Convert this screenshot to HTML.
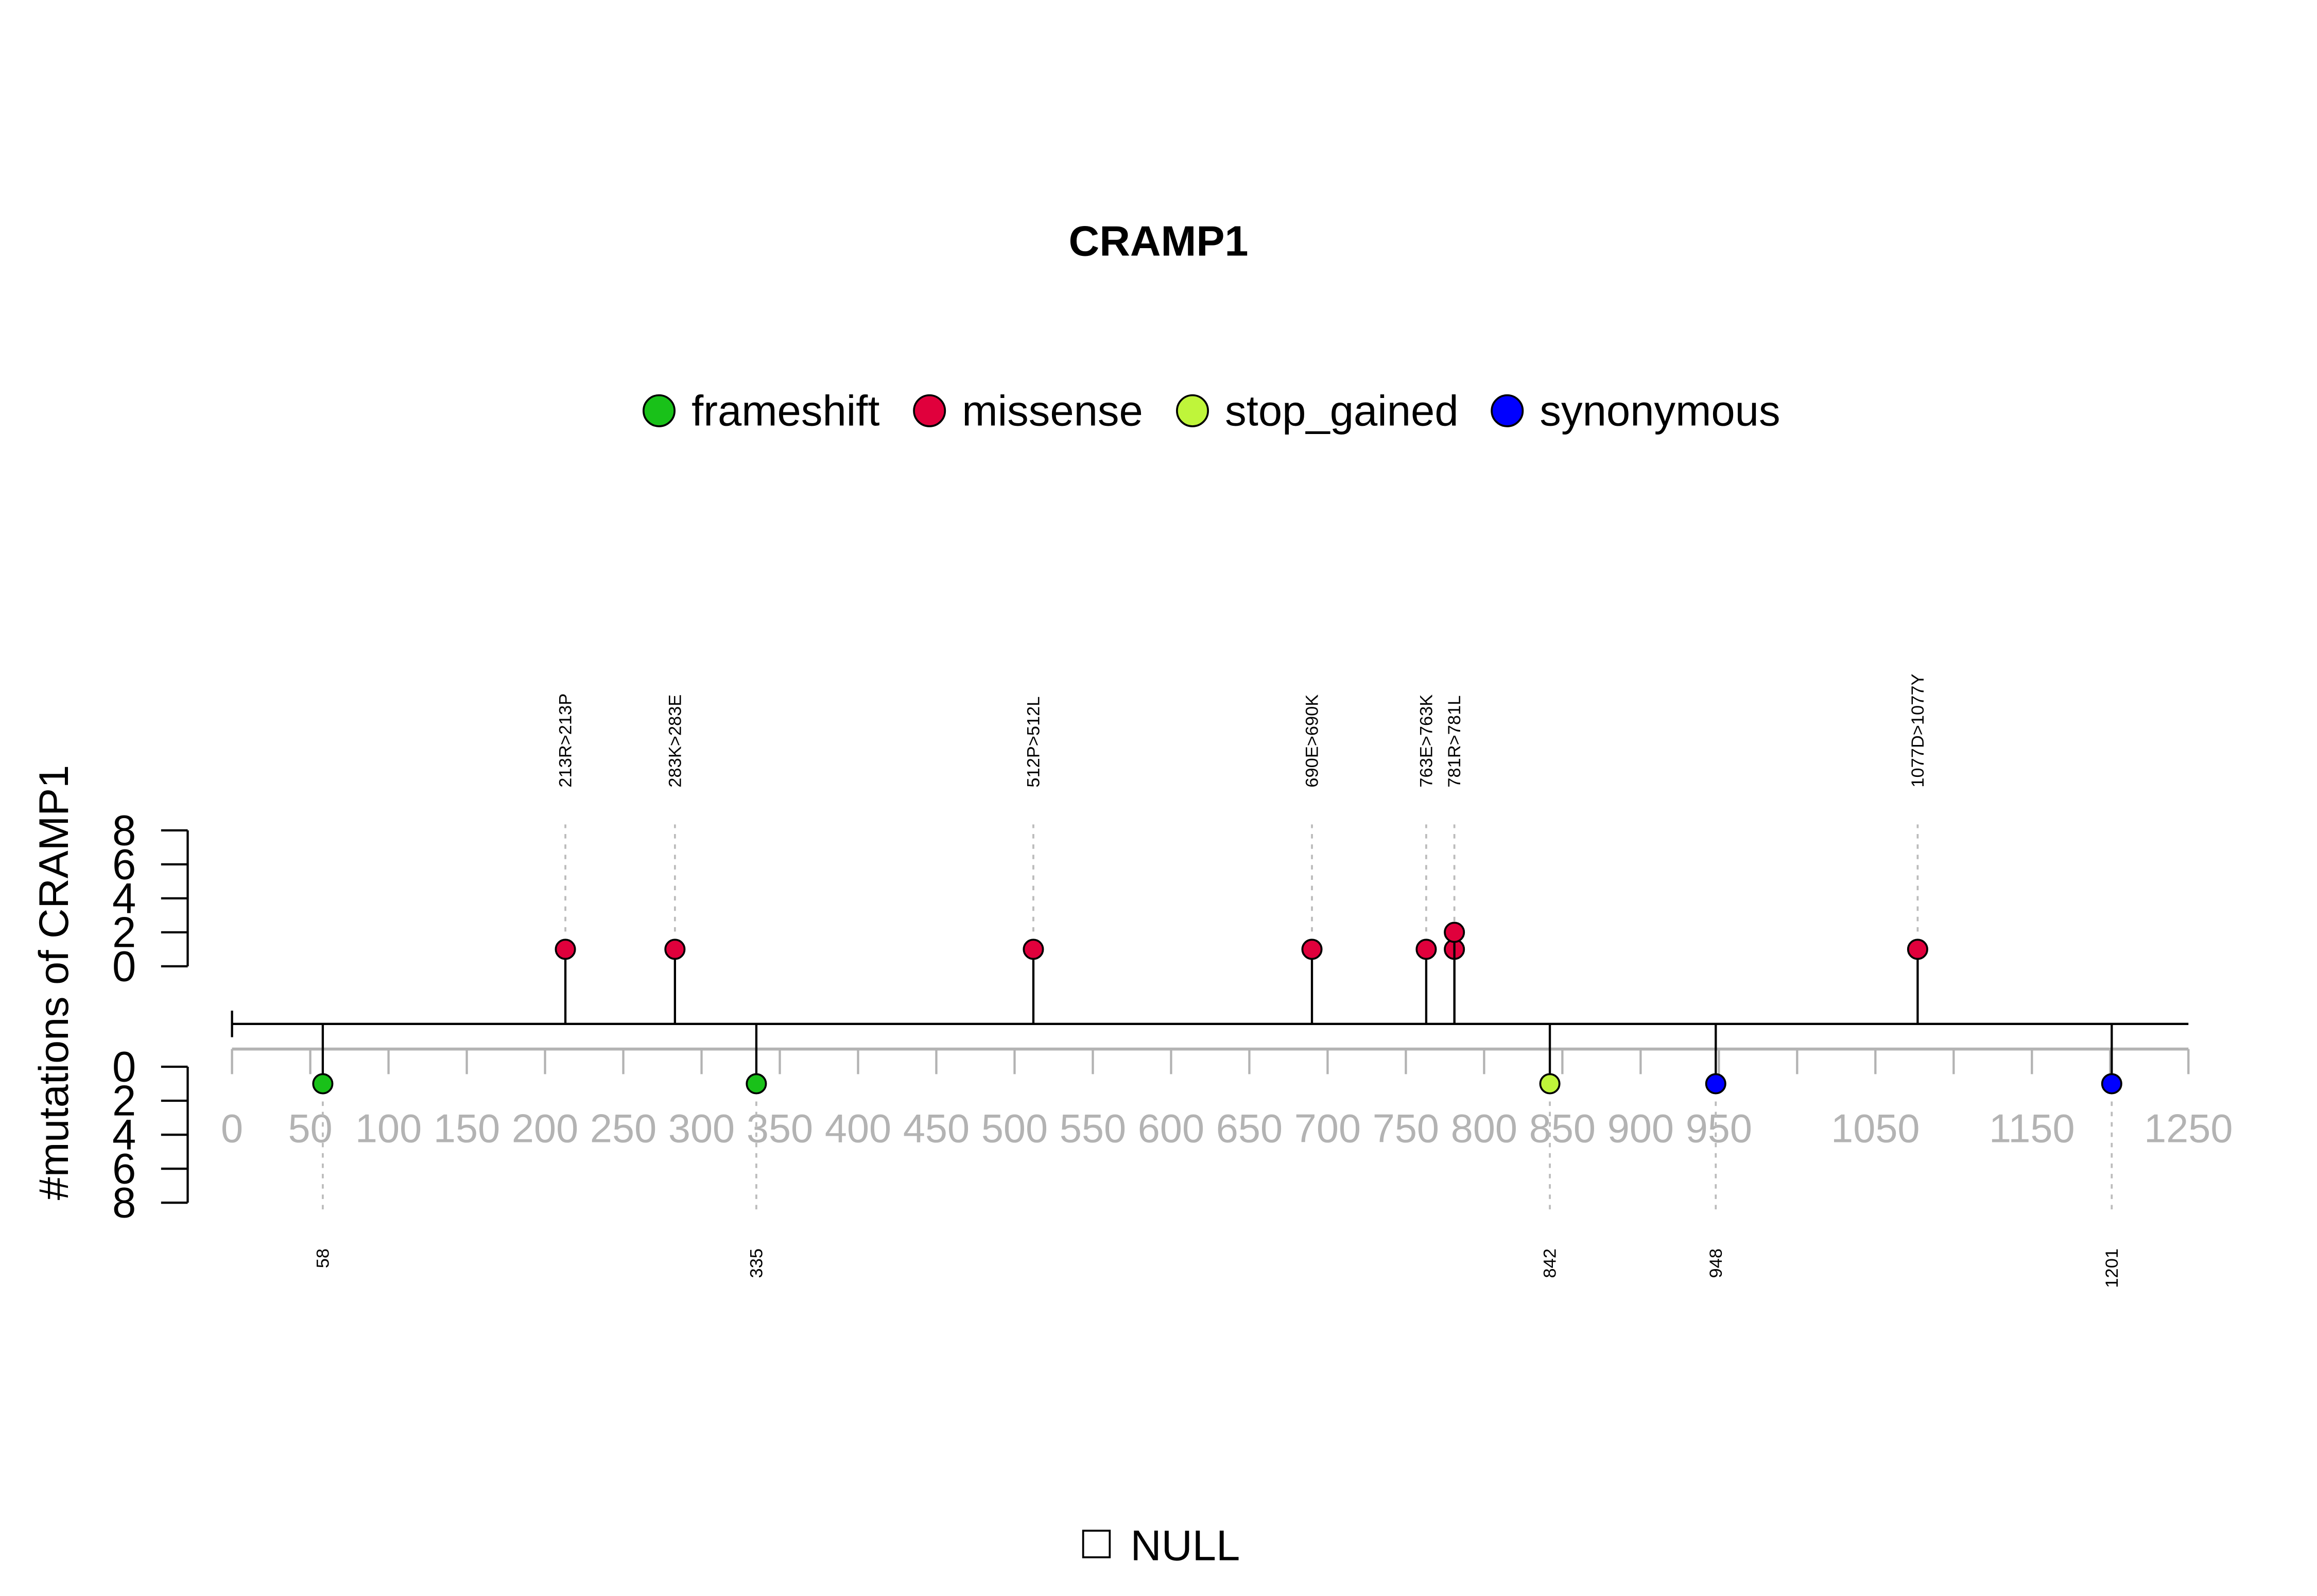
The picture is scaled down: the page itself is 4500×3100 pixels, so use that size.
<!DOCTYPE html>
<html><head><meta charset="utf-8"><style>html,body{margin:0;padding:0;background:#fff}svg{display:block}text{font-family:"Liberation Sans",Arial,sans-serif}</style></head>
<body>
<svg id="chart" xmlns="http://www.w3.org/2000/svg" width="4500" height="3100" viewBox="0 0 1568 1080.2">
<rect width="1568" height="1080.2" fill="#fff"/>
<text x="784" y="173" font-size="28.8" font-weight="bold" text-anchor="middle">CRAMP1</text>
<g font-size="29">
<circle cx="446" cy="278" r="10.5" fill="#19c119" stroke="#000" stroke-width="1.3"/>
<text x="468" y="288">frameshift</text>
<circle cx="629" cy="278" r="10.5" fill="#e0003c" stroke="#000" stroke-width="1.3"/>
<text x="651" y="288">missense</text>
<circle cx="807" cy="278" r="10.5" fill="#bff53a" stroke="#000" stroke-width="1.3"/>
<text x="829" y="288">stop_gained</text>
<circle cx="1020" cy="278" r="10.5" fill="#0000ff" stroke="#000" stroke-width="1.3"/>
<text x="1042" y="288">synonymous</text>
</g>
<text transform="translate(46,665) rotate(-90)" font-size="28.2" text-anchor="middle">#mutations of CRAMP1</text>
<g id="axes"></g>
<g id="marks"></g>
<g>
<rect x="733" y="1036" width="18" height="18" fill="none" stroke="#000" stroke-width="1.3"/>
<text x="765" y="1056" font-size="29">NULL</text>
</g>
</svg>
<script>
const positions=[213,283,512,690,763,781,781,1077,58,335,842,948,1201];
const counts=[1,1,1,1,1,1,2,1,1,1,1,1,1];
const types=["missense","missense","missense","missense","missense","missense","missense","missense","frameshift","frameshift","stop_gained","synonymous","synonymous"];
const labels=["213R>213P","283K>283E","512P>512L","690E>690K","763E>763K","781R>781L","","1077D>1077Y","58","335","842","948","1201"];
const xTicks=[0,50,100,150,200,250,300,350,400,450,500,550,600,650,700,750,800,850,900,950,1000,1050,1100,1150,1200,1250];
const xTickLabels=["0","50","100","150","200","250","300","350","400","450","500","550","600","650","700","750","800","850","900","950","","1050","","1150","","1250"];
const yTicks=[0,2,4,6,8];
const colors={frameshift:"#19c119",missense:"#e0003c",stop_gained:"#bff53a",synonymous:"#0000ff"};
const NS="http://www.w3.org/2000/svg";
const X0=157,X1=1481,XMAX=1250,BB=693;
function x(v){return X0+(X1-X0)*v/XMAX;}
function yUp(c){return 654-c*(654-562)/8;}
function yDn(c){return 722+c*(814-722)/8;}
function mk(tag,attrs,parent){const e=document.createElementNS(NS,tag);for(const k in attrs)e.setAttribute(k,attrs[k]);parent.appendChild(e);return e;}
const axes=document.getElementById('axes'),marks=document.getElementById('marks');
let g=mk('line',{x1:x(0),x2:x(XMAX),y1:710,y2:710,stroke:'#b3b3b3','stroke-width':2},axes);


xTicks.forEach((t,i)=>{
 const l=mk('line',{x1:x(t),x2:x(t),y1:710,y2:727,stroke:'#b3b3b3','stroke-width':1.5},axes);
 
 
 if(xTickLabels[i]){const tx=mk('text',{x:x(t),y:773,'font-size':27,fill:'#b3b3b3','text-anchor':'middle'},axes);tx.textContent=xTickLabels[i];
 
 }
});
[[yUp,'upper'],[yDn,'lower']].forEach(([f,n])=>{
 const a=mk('line',{x1:127,x2:127,y1:f(0),y2:f(8),stroke:'#000','stroke-width':1.5},axes);
 
 
 yTicks.forEach(t=>{
  const l=mk('line',{x1:109,x2:127,y1:f(t),y2:f(t),stroke:'#000','stroke-width':1.5},axes);
  
  
  const tx=mk('text',{x:84,y:f(t)+10,'font-size':29,'text-anchor':'middle'},axes);tx.textContent=t;
  
  
 });
});
const bb=mk('line',{x1:x(0),x2:x(XMAX),y1:BB,y2:BB,stroke:'#000','stroke-width':1.5},axes);


const cap=mk('line',{x1:x(0),x2:x(0),y1:684,y2:702,stroke:'#000','stroke-width':1.5},axes);


positions.forEach((p,i)=>{
 const up=types[i]==='missense';
 const yy=up?yUp(counts[i]):yDn(counts[i]);
 const px=x(p);
 if(labels[i]){
  const d=mk('line',{x1:px,x2:px,y1:up?yy-12:yy+12,y2:up?558:820,stroke:'#bbb','stroke-width':1.3,'stroke-dasharray':'3,4'},marks);
  
  
  const ty=up?533:845;
  const tx=mk('text',{x:0,y:0,'font-size':12,'text-anchor':up?'start':'end',transform:`translate(${px+4},${ty}) rotate(-90)`},marks);
  tx.textContent=labels[i];
  
  
 }
 const s=mk('line',{x1:px,x2:px,y1:BB,y2:yy,stroke:'#000','stroke-width':1.5},marks);
 
 
 const c=mk('circle',{cx:px,cy:yy,r:6.5,fill:colors[types[i]],stroke:'#000','stroke-width':1.3},marks);
 
 
});
</script>
</body></html>
